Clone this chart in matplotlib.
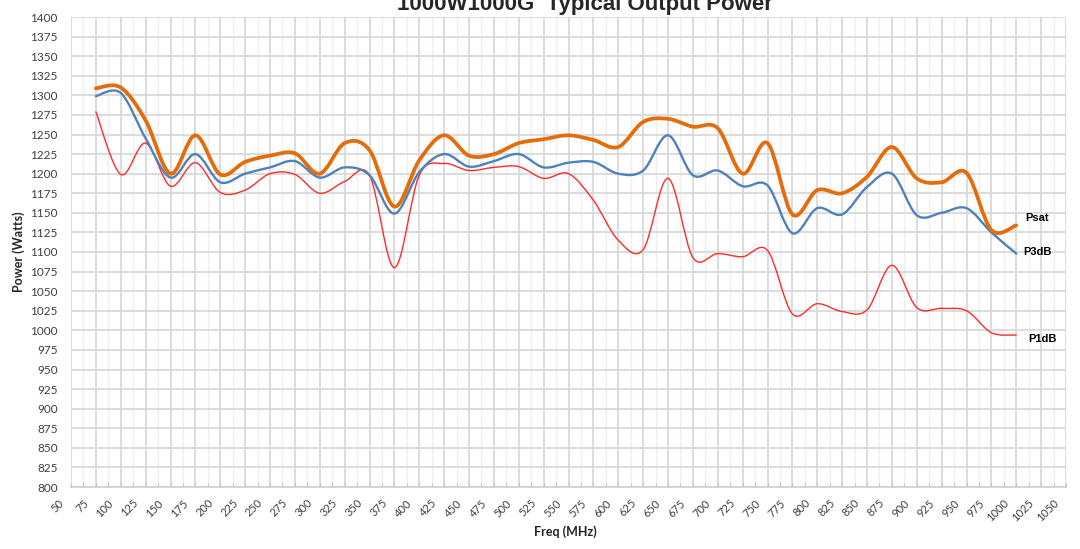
import matplotlib
matplotlib.use("Agg")
import matplotlib.pyplot as plt
from matplotlib.path import Path
from matplotlib.patches import PathPatch
from matplotlib.transforms import ScaledTranslation
import numpy as np

freq = [75, 100, 125, 150, 175, 200, 225, 250, 275, 300,
        325, 350, 375, 400, 425, 450, 475, 500, 525, 550,
        575, 600, 625, 650, 675, 700, 725, 750, 775, 800,
        825, 850, 875, 900, 925, 950, 975, 1000]
psat = [1309, 1310, 1268, 1200, 1249, 1199, 1215, 1223, 1226, 1200,
        1239, 1230, 1158, 1217, 1249, 1223, 1225, 1239, 1244, 1249,
        1243, 1234, 1266, 1270, 1260, 1258, 1200, 1239, 1148, 1179,
        1175, 1196, 1234, 1194, 1189, 1201, 1128, 1134]
p3db = [1299, 1303, 1245, 1195, 1225, 1189, 1200, 1208, 1216, 1195,
        1208, 1198, 1149, 1202, 1225, 1209, 1216, 1225, 1208, 1214,
        1215, 1200, 1204, 1249, 1198, 1204, 1184, 1185, 1124, 1156,
        1148, 1183, 1200, 1147, 1150, 1156, 1125, 1098]
p1db = [1279, 1199, 1239, 1184, 1214, 1176, 1179, 1200, 1199, 1175,
        1190, 1198, 1080, 1198, 1213, 1204, 1208, 1209, 1194, 1200,
        1166, 1115, 1103, 1194, 1093, 1098, 1094, 1102, 1021, 1034,
        1024, 1026, 1083, 1029, 1028, 1025, 997, 994]

x_ticks = list(range(50, 1051, 25))
y_ticks = list(range(800, 1401, 25))
title = "1000W1000G  Typical Output Power"


def smooth_path(x, y):
    x = np.asarray(x, float)
    y = np.asarray(y, float)
    n = len(x)
    verts = [(x[0], y[0])]
    codes = [Path.MOVETO]
    for i in range(n - 1):
        a = i - 1 if i > 0 else i
        d = i + 2 if i + 2 < n else i + 1
        c1 = (x[i] + (x[i + 1] - x[a]) / 6, y[i] + (y[i + 1] - y[a]) / 6)
        c2 = (x[i + 1] - (x[d] - x[i]) / 6, y[i + 1] - (y[d] - y[i]) / 6)
        verts += [c1, c2, (x[i + 1], y[i + 1])]
        codes += [Path.CURVE4] * 3
    return Path(verts, codes)


fig = plt.figure(figsize=(10.8, 5.49), dpi=100)
ax = fig.add_axes([71 / 1080, 1 - 487 / 549, (1066 - 71) / 1080, (487 - 17) / 549])

ax.set_xlim(50, 1050)
ax.set_ylim(800, 1400)

# grid
ax.set_xticks(x_ticks)
ax.set_xticks([v + 12.5 for v in x_ticks[:-1]], minor=True)
ax.set_yticks(y_ticks)
ax.grid(True, which='major', axis='both', color='#d9d9d9', lw=1.3, zorder=0)
ax.grid(True, which='minor', axis='x', color='#efefef', lw=1.0, zorder=0)
ax.set_axisbelow(True)

for s in ['top', 'right', 'left']:
    ax.spines[s].set_visible(False)
ax.spines['bottom'].set_color('#cfcfcf')
ax.spines['bottom'].set_linewidth(1.2)

ax.tick_params(axis='y', length=0, pad=9.5, labelsize=8.5, labelcolor='#404040')
ax.tick_params(axis='x', which='both', direction='in', length=3, color='#bfbfbf',
               pad=7.5, labelsize=8, labelcolor='#404040')
ax.tick_params(axis='x', which='minor', direction='in', length=3, color='#bfbfbf')

ax.set_xticklabels([str(v) for v in x_ticks], rotation=45, ha='right', va='top',
                   fontfamily='Lato')
ax.set_yticklabels([str(v) for v in y_ticks], fontfamily='Lato')
off = ScaledTranslation(-5 / 100, 0, fig.dpi_scale_trans)
for lbl in ax.get_xticklabels():
    lbl.set_transform(lbl.get_transform() + off)

# series
series = [(p1db, '#ff2a2a', 1.0), (p3db, '#4f81bd', 1.7), (psat, '#e46c0a', 2.7)]
for vals, col, lw in series:
    patch = PathPatch(smooth_path(freq, vals), facecolor='none', edgecolor=col,
                      lw=lw, capstyle='round', joinstyle='round', zorder=3)
    ax.add_patch(patch)

ax.text(1009, 1144, 'Psat', fontsize=8, fontweight='bold', fontfamily='Liberation Sans',
        ha='left', va='center', color='black')
ax.text(1007, 1100, 'P3dB', fontsize=8, fontweight='bold', fontfamily='Liberation Sans',
        ha='left', va='center', color='black')
ax.text(1012, 989, 'P1dB', fontsize=8, fontweight='bold', fontfamily='Liberation Sans',
        ha='left', va='center', color='black')

ax.set_xlabel('Freq (MHz)', fontsize=9, fontweight='bold', fontfamily='Lato',
              color='#262626')
ax.set_ylabel('Power (Watts)', fontsize=9, fontweight='bold', fontfamily='Lato',
              color='#262626')
ax.xaxis.set_label_coords((565 - 71) / (1066 - 71), -(532 - 487) / (487 - 17))
ax.yaxis.set_label_coords(-(71 - 19) / (1066 - 71), 0.5)
ax.yaxis.label.set_va('center')
ax.xaxis.label.set_va('center')

fig.text(585 / 1080, 1 - 10 / 549, title, fontsize=16, fontweight='bold',
         fontfamily='Liberation Sans', ha='center', va='baseline', color='#262626')

fig.savefig('out.png', dpi=100, facecolor='white')
